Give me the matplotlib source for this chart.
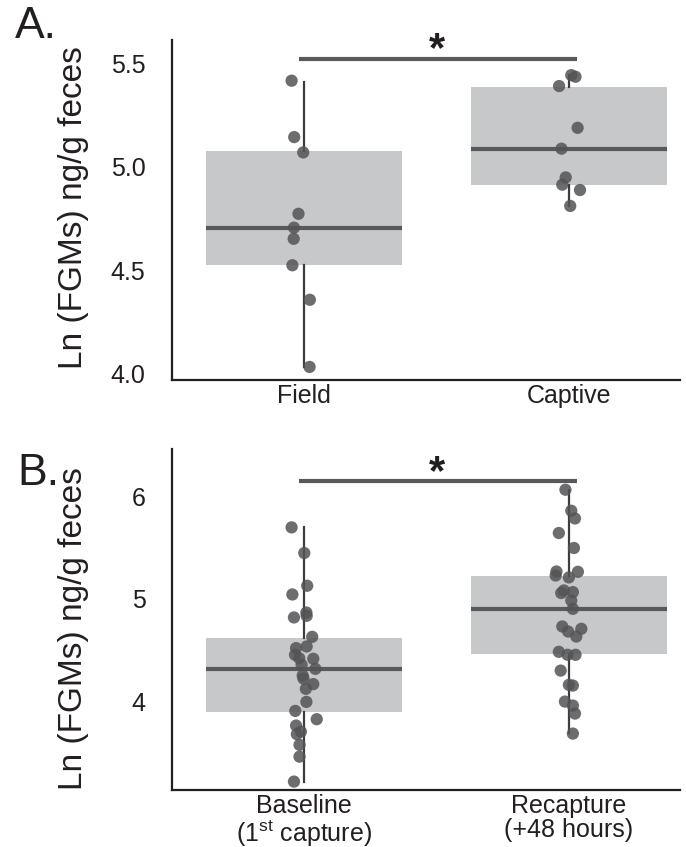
import matplotlib

matplotlib.use("Agg")
import matplotlib.pyplot as plt

plt.rcParams["font.family"] = ["Liberation Sans", "DejaVu Sans"]
plt.rcParams["mathtext.fontset"] = "custom"
plt.rcParams["mathtext.rm"] = "Liberation Sans"

TEXT = "#231f20"
BOX_FILL = "#c7c8ca"
LINE = "#58595b"
DOT = "#545456"

# panel A: field vs captive
a_groups = ["Field", "Captive"]
field_y = [5.416, 5.143, 5.069, 4.772, 4.705, 4.651, 4.523, 4.356, 4.031]
field_dx = [-0.048, -0.038, -0.004, -0.022, -0.039, -0.040, -0.045, 0.021, 0.020]
captive_y = [5.443, 5.435, 5.390, 5.188, 5.087, 4.948, 4.913, 4.887, 4.810]
captive_dx = [0.009, 0.025, -0.037, 0.033, -0.028, -0.012, -0.025, 0.042, 0.005]
# box summaries: low, q1, median, q3, high
field_box = [4.031, 4.526, 4.705, 5.076, 5.408]
captive_box = [4.810, 4.913, 5.087, 5.385, 5.443]

# panel B: baseline vs recapture
b_groups = ["Baseline\n(1$^{\\mathrm{st}}$ capture)", "Recapture\n(+48 hours)"]
baseline_y = [5.698, 5.448, 5.129, 5.044, 4.868, 4.836, 4.820, 4.631, 4.521,
              4.537, 4.456, 4.423, 4.417, 4.358, 4.319, 4.254, 4.224, 4.170,
              4.124, 3.997, 3.909, 3.828, 3.766, 3.707, 3.682, 3.578, 3.463,
              3.220]
baseline_dx = [-0.048, 0.000, 0.011, -0.045, 0.008, 0.009, -0.039, 0.030,
               -0.031, 0.009, -0.035, -0.019, 0.034, -0.010, 0.042, -0.006,
               -0.003, 0.034, 0.006, 0.008, -0.034, 0.047, -0.031, -0.013,
               -0.028, -0.018, -0.018, -0.039]
recapture_y = [6.065, 5.860, 5.785, 5.643, 5.497, 5.268, 5.229, 5.265, 5.210,
               5.083, 5.058, 5.067, 4.985, 4.904, 4.732, 4.709, 4.683, 4.634,
               4.485, 4.456, 4.456, 4.302, 4.163, 4.156, 4.000, 3.961, 3.883,
               3.688]
recapture_dx = [-0.013, 0.009, 0.023, -0.038, 0.019, -0.047, -0.050, 0.034,
                0.000, -0.019, -0.029, 0.015, 0.009, 0.015, -0.025, 0.047,
                -0.003, 0.028, -0.038, -0.005, 0.025, -0.031, 0.000, 0.015,
                -0.015, 0.015, 0.023, 0.015]
baseline_box = [3.214, 3.902, 4.322, 4.619, 5.698]
recapture_box = [3.690, 4.459, 4.907, 5.223, 6.065]


def box_stats(vals):
    lo, q1, med, q3, hi = vals
    return {"whislo": lo, "q1": q1, "med": med, "q3": q3, "whishi": hi, "fliers": []}


def draw_panel(ax, boxes, points, labels, ylim, yticks, yticklabels, bar_y, star_y):
    ax.bxp(
        [box_stats(b) for b in boxes],
        positions=[0, 1],
        widths=0.74,
        patch_artist=True,
        showfliers=False,
        showcaps=False,
        boxprops=dict(facecolor=BOX_FILL, edgecolor="none"),
        medianprops=dict(color=LINE, linewidth=3),
        whiskerprops=dict(color="#3d3d3f", linewidth=1.6),
        zorder=1,
    )
    for i, (ys, dxs) in enumerate(points):
        xs = [i + d for d in dxs]
        ax.scatter(xs, ys, s=78, color=DOT, alpha=0.85, edgecolors="none", zorder=3)

    ax.plot([-0.02, 1.03], [bar_y, bar_y], color=LINE, linewidth=3, solid_capstyle="butt")
    ax.text(0.5, star_y, "*", ha="center", va="center", fontsize=30,
            fontweight="bold", color=TEXT)

    ax.set_xlim(-0.5, 1.42)
    ax.set_ylim(*ylim)
    ax.set_xticks([0, 1])
    ax.set_xticklabels(labels, fontsize=18, color=TEXT, linespacing=1.0)
    ax.set_yticks(yticks)
    ax.set_yticklabels(yticklabels, fontsize=18, color=TEXT)
    ax.tick_params(axis="y", length=0, pad=19)
    ax.tick_params(axis="x", length=0, pad=3)
    for side in ["top", "right"]:
        ax.spines[side].set_visible(False)
    for side in ["left", "bottom"]:
        ax.spines[side].set_color(TEXT)
        ax.spines[side].set_linewidth(1.6)


fig = plt.figure(figsize=(6.86, 8.47), dpi=100)
ax_a = fig.add_axes([0.2507, 0.5514, 0.7406, 0.4014])
ax_b = fig.add_axes([0.2507, 0.0673, 0.7406, 0.4026])

draw_panel(ax_a, [field_box, captive_box],
           [(field_y, field_dx), (captive_y, captive_dx)],
           a_groups, (3.968, 5.613), [4.0, 4.5, 5.0, 5.5],
           ["4.0", "4.5", "5.0", "5.5"], 5.521, 5.566)
draw_panel(ax_b, [baseline_box, recapture_box],
           [(baseline_y, baseline_dx), (recapture_y, recapture_dx)],
           b_groups, (3.138, 6.462), [4, 5, 6], ["4", "5", "6"], 6.150, 6.232)

ylabel = "Ln (FGMs) ng/g feces"
fig.text(0.107, 0.755, ylabel, rotation=90, ha="center", va="center",
         fontsize=24, color=TEXT)
fig.text(0.107, 0.258, ylabel, rotation=90, ha="center", va="center",
         fontsize=24, color=TEXT)

fig.text(15 / 686, 1 - 38 / 847, "A.", fontsize=32, color=TEXT, ha="left", va="baseline")
fig.text(17 / 686, 1 - 485 / 847, "B.", fontsize=32, color=TEXT, ha="left", va="baseline")

fig.savefig("out.png", dpi=100)
